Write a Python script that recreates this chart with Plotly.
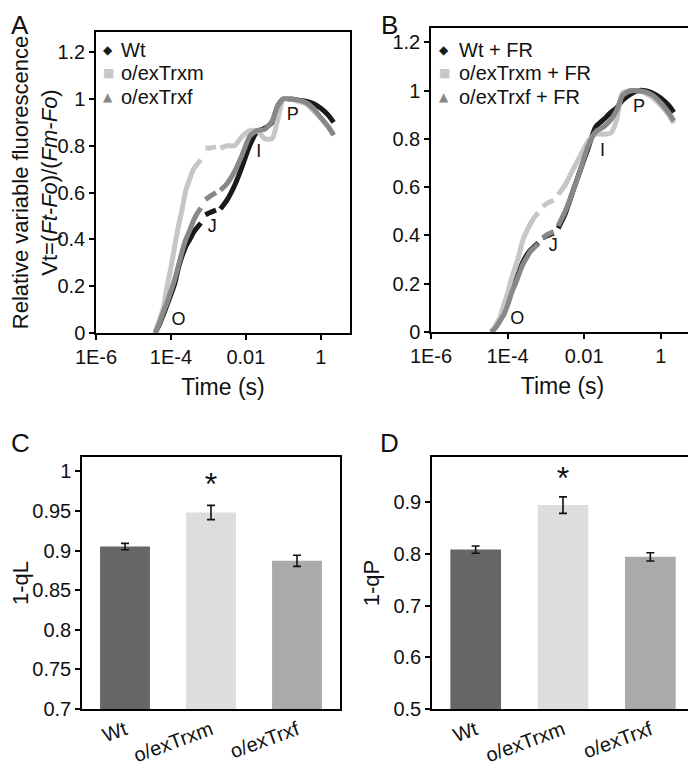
import plotly.graph_objects as go

# ── OJIP transients (time in s, Vt relative) ─────────────
t = [3.8e-5, 5.0e-5, 6.3e-5, 7.9e-5, 1.0e-4, 1.26e-4, 1.6e-4, 2.0e-4, 2.5e-4, 3.2e-4,
     4.0e-4, 5.0e-4, 6.3e-4, None, 8.3e-4, 1.12e-3, 1.6e-3, None, 2.1e-3, 3.2e-3,
     5.0e-3, 7.9e-3, 0.0126, 0.02, 0.032, 0.05, 0.071, 0.1, 0.16, 0.25,
     0.4, 0.63, 1.0, 1.6, 2.2]

wt_a = [0, 0.04, 0.08, 0.12, 0.165, 0.21, 0.28, 0.33, 0.37, 0.40,
        0.43, 0.45, 0.47, None, 0.505, 0.515, 0.525, None, 0.53, 0.57,
        0.63, 0.71, 0.80, 0.86, 0.875, 0.90, 0.97, 1.0, 1.0, 0.995,
        0.99, 0.98, 0.96, 0.93, 0.90]
trxm_a = [0, 0.06, 0.11, 0.20, 0.28, 0.37, 0.46, 0.53, 0.61, 0.66,
          0.70, 0.72, 0.74, None, 0.79, 0.79, 0.795, None, 0.79, 0.80,
          0.80, 0.84, 0.865, 0.865, 0.83, 0.83, 0.91, 1.0, 1.0, 0.99,
          0.98, 0.95, 0.92, 0.88, 0.85]
trxf_a = [0, 0.045, 0.09, 0.13, 0.18, 0.23, 0.29, 0.35, 0.40, 0.44,
          0.48, 0.51, 0.535, None, 0.57, 0.585, 0.60, None, 0.61, 0.64,
          0.69, 0.76, 0.84, 0.865, 0.87, 0.905, 0.97, 1.0, 1.0, 0.995,
          0.985, 0.96, 0.92, 0.88, 0.845]

wt_b = [0, 0.025, 0.05, 0.08, 0.12, 0.17, 0.21, 0.25, 0.29, 0.32,
        0.34, 0.355, 0.37, None, 0.39, 0.40, 0.41, None, 0.43, 0.49,
        0.58, 0.67, 0.76, 0.85, 0.88, 0.91, 0.93, 0.96, 0.985, 1.0,
        1.0, 0.99, 0.97, 0.94, 0.91]
trxm_b = [0, 0.03, 0.06, 0.11, 0.16, 0.22, 0.27, 0.32, 0.38, 0.42,
          0.45, 0.475, 0.495, None, 0.52, 0.535, 0.545, None, 0.57, 0.61,
          0.67, 0.73, 0.79, 0.82, 0.82, 0.825, 0.88, 0.99, 1.0, 1.0,
          0.99, 0.97, 0.94, 0.90, 0.865]
trxf_b = [0, 0.02, 0.045, 0.07, 0.11, 0.16, 0.20, 0.24, 0.28, 0.31,
          0.335, 0.35, 0.365, None, 0.39, 0.405, 0.415, None, 0.44, 0.50,
          0.58, 0.67, 0.77, 0.83, 0.85, 0.88, 0.92, 0.98, 1.0, 1.0,
          0.995, 0.98, 0.95, 0.91, 0.875]

# O, J, I, P step labels (time, Vt)
steps = ["O", "J", "I", "P"]
steps_t_a = [1.6e-4, 1.26e-3, 0.022, 0.18]
steps_v_a = [0.055, 0.45, 0.77, 0.93]
steps_t_b = [1.8e-4, 1.55e-3, 0.03, 0.27]
steps_v_b = [0.05, 0.355, 0.75, 0.93]

# ── 1-qL / 1-qP bars ─────────────────────────────────────
lines = ["Wt", "o/exTrxm", "o/exTrxf"]
qL = [0.905, 0.948, 0.887]
qL_err = [0.004, 0.009, 0.007]
qP = [0.808, 0.894, 0.794]
qP_err = [0.007, 0.016, 0.008]
star_qL = [None, 0.98, None]
star_qP = [None, 0.94, None]

FONT = "Liberation Sans, Arial, sans-serif"
INK = "#111111"
curve_col = {"Wt": "#1a1a1a", "o/exTrxm": "#c6c6c6", "o/exTrxf": "#888888"}
glyph = {"Wt": "◆", "o/exTrxm": "■", "o/exTrxf": "▲"}
bar_col = ["#666666", "#dddddd", "#aaaaaa"]

# the page body has an 8px margin, so the figure is drawn 8px in from the corner
OFF = 8
W, H = 696 - OFF, 770 - OFF
fig = go.Figure()


def add_curves(series, xa, ya):
    for name, v in series:
        fig.add_trace(go.Scatter(
            x=t, y=v, xaxis=xa, yaxis=ya, mode="lines", name=name, showlegend=False,
            line=dict(color=curve_col[name], width=5, shape="spline", smoothing=0.6),
            connectgaps=False))


add_curves([("Wt", wt_a), ("o/exTrxm", trxm_a), ("o/exTrxf", trxf_a)], "x", "y")
add_curves([("Wt", wt_b), ("o/exTrxm", trxm_b), ("o/exTrxf", trxf_b)], "x2", "y2")

for st, sv, xa, ya in [(steps_t_a, steps_v_a, "x", "y"), (steps_t_b, steps_v_b, "x2", "y2")]:
    fig.add_trace(go.Scatter(x=st, y=sv, xaxis=xa, yaxis=ya, mode="text", text=steps,
                             textfont=dict(size=18, color=INK, family=FONT),
                             showlegend=False))

for vals, err, star, xa, ya in [(qL, qL_err, star_qL, "x3", "y3"), (qP, qP_err, star_qP, "x4", "y4")]:
    fig.add_trace(go.Bar(
        x=lines, y=vals, xaxis=xa, yaxis=ya, marker=dict(color=bar_col, line_width=0),
        width=0.58, showlegend=False,
        error_y=dict(type="data", array=err, color=INK, thickness=1.6, width=4)))
    fig.add_trace(go.Scatter(x=lines, y=star, xaxis=xa, yaxis=ya, mode="text", text=["*"] * 3,
                             textfont=dict(size=32, color=INK, family=FONT),
                             showlegend=False))


def px_x(p):
    return (p - OFF) / W


def px_y(p):
    return 1 - (p - OFF) / H


def dx(a, b):
    return [px_x(a), px_x(b)]


def dy(top, bottom):
    return [px_y(bottom), px_y(top)]


def ax(**kw):
    base = dict(showline=True, linecolor="black", linewidth=1.5, mirror=True,
                ticks="outside", ticklen=5, tickwidth=1.5, tickcolor="black",
                showgrid=False, zeroline=False, automargin=False,
                tickfont=dict(family=FONT, size=20, color=INK))
    base.update(kw)
    return base


def title(text, size, standoff):
    return dict(text=text, font=dict(family=FONT, size=size, color=INK), standoff=standoff)


log_ticks = dict(type="log", tickvals=[1e-6, 1e-4, 0.01, 1], ticktext=["1E-6", "1E-4", "0.01", "1"])
vt_text = "Relative variable fluorescence<br>Vt=(<i>Ft-Fo</i>)/(<i>Fm-Fo</i>)"

fig.update_layout(
    width=W, height=H, margin=dict(l=0, r=0, t=0, b=0),
    template="none", plot_bgcolor="white", paper_bgcolor="white",
    font=dict(family=FONT, color=INK), showlegend=False,
    xaxis=ax(domain=dx(96, 350), range=[-6, 0.78], anchor="y",
             title=title("Time (s)", 23, 12), **log_ticks),
    yaxis=ax(domain=dy(32, 333), range=[0, 1.286], dtick=0.2, anchor="x",
             title=title(vt_text, 22, 3)),
    xaxis2=ax(domain=dx(431, 694), range=[-6, 0.87], anchor="y2",
              title=title("Time (s)", 23, 12), **log_ticks),
    yaxis2=ax(domain=dy(28, 332), range=[0, 1.26], dtick=0.2, anchor="x2"),
    xaxis3=ax(domain=dx(82, 340), range=[-0.5, 2.5], anchor="y3", tickangle=-20, ticks=""),
    yaxis3=ax(domain=dy(457, 709), range=[0.7, 1.018], dtick=0.05, anchor="x3",
              title=title("1-qL", 22, 12)),
    xaxis4=ax(domain=dx(432, 694), range=[-0.5, 2.5], anchor="y4", tickangle=-20, ticks=""),
    yaxis4=ax(domain=dy(457, 709), range=[0.5, 0.987], dtick=0.1, anchor="x4",
              title=title("1-qP", 22, 8)),
)

# legends drawn as glyph + label inside panels A and B
for sx, tx, suffix in [(108, 119, ""), (444, 457, " + FR")]:
    for name, row_y in zip(lines, [50, 73, 97]):
        fig.add_annotation(text=glyph[name], x=px_x(sx), y=px_y(row_y), xref="paper", yref="paper",
                           xanchor="center", yanchor="middle", showarrow=False,
                           font=dict(family="DejaVu Sans", size=12, color=curve_col[name]))
        fig.add_annotation(text=name + suffix, x=px_x(tx), y=px_y(row_y), xref="paper", yref="paper",
                           xanchor="left", yanchor="middle", showarrow=False,
                           font=dict(family=FONT, size=20, color=INK))

for letter, px, py in [("A", 20, 25), ("B", 389, 25), ("C", 20, 443), ("D", 389, 443)]:
    fig.add_annotation(text=letter, x=px_x(px), y=px_y(py), xref="paper", yref="paper",
                       xanchor="center", yanchor="middle", showarrow=False,
                       font=dict(family=FONT, size=26, color=INK))

fig.write_html("out.html")
